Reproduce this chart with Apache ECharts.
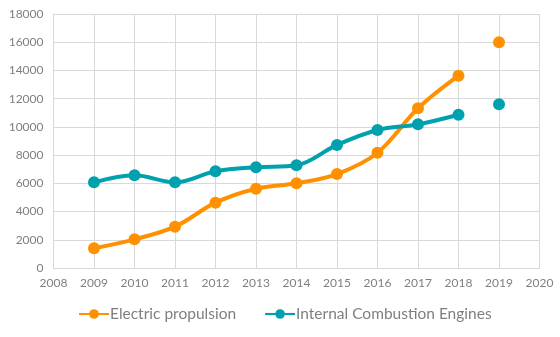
<!DOCTYPE html>
<html>
<head>
<meta charset="utf-8">
<script src="https://cdn.jsdelivr.net/npm/echarts@6/dist/echarts.min.js"></script>
<style>
  html, body { margin: 0; padding: 0; background: #fff; }
  #chart { width: 560px; height: 337px; }
</style>
</head>
<body>
<div id="chart"></div>
<script>
// Annual figures, 2009-2018 connected, 2019 shown as a standalone point
const years = [2009, 2010, 2011, 2012, 2013, 2014, 2015, 2016, 2017, 2018];
const electric = [1400, 2030, 2930, 4630, 5620, 6000, 6660, 8170, 11320, 13630];
const combustion = [6070, 6570, 6070, 6850, 7140, 7280, 8720, 9780, 10180, 10860];
const year2019 = 2019;
const electric2019 = 16000;
const combustion2019 = 11600;

const xMin = 2008, xMax = 2020;
const yMin = 0, yMax = 18000, yStep = 2000;

const orange = '#FF9100';
const teal = '#00A1AE';
const fontFamily = 'Lato, "Open Sans", sans-serif';
const textColor = '#7F7F7F';

const pairs = (xs, ys) => xs.map((x, i) => [x, ys[i]]);

const lineSeries = (name, color, values) => ({
  name,
  type: 'line',
  data: pairs(years, values),
  smooth: 0.35,
  symbol: 'circle',
  symbolSize: 12,
  lineStyle: { width: 4, color },
  itemStyle: { color, opacity: 1 },
  z: 3
});

const pointSeries = (name, color, value) => ({
  name,
  type: 'scatter',
  data: [[year2019, value]],
  symbol: 'circle',
  symbolSize: 12,
  itemStyle: { color, opacity: 1 },
  z: 3
});

const chart = echarts.init(document.getElementById('chart'), null, { renderer: 'canvas' });
chart.setOption({
  animation: false,
  textStyle: { fontFamily },
  grid: { left: 53.5, right: 20.5, top: 14, bottom: 69, containLabel: false },
  xAxis: {
    type: 'value',
    min: xMin, max: xMax, interval: 1,
    axisLine: { show: true, lineStyle: { color: '#D9D9D9', width: 1 } },
    axisTick: { show: false },
    splitLine: { show: true, lineStyle: { color: '#D9D9D9', width: 1 } },
    axisLabel: { color: textColor, fontSize: 12, margin: 9, fontFamily, formatter: v => String(v) }
  },
  yAxis: {
    type: 'value',
    min: yMin, max: yMax, interval: yStep,
    axisLine: { show: true, lineStyle: { color: '#D9D9D9', width: 1 } },
    axisTick: { show: false },
    splitLine: { show: true, lineStyle: { color: '#D9D9D9', width: 1 } },
    axisLabel: { color: textColor, fontSize: 12, margin: 10, fontFamily, formatter: v => String(v) }
  },
  legend: {
    data: ['Electric propulsion', 'Internal Combustion Engines'],
    left: 73,
    top: 301,
    itemWidth: 30,
    itemHeight: 12,
    itemGap: 28,
    textStyle: { color: textColor, fontSize: 15.5, fontFamily, padding: [0, 0, 0, -4] }
  },
  series: [
    lineSeries('Electric propulsion', orange, electric),
    lineSeries('Internal Combustion Engines', teal, combustion),
    pointSeries('Electric propulsion 2019', orange, electric2019),
    pointSeries('Internal Combustion Engines 2019', teal, combustion2019)
  ]
});
</script>
</body>
</html>
